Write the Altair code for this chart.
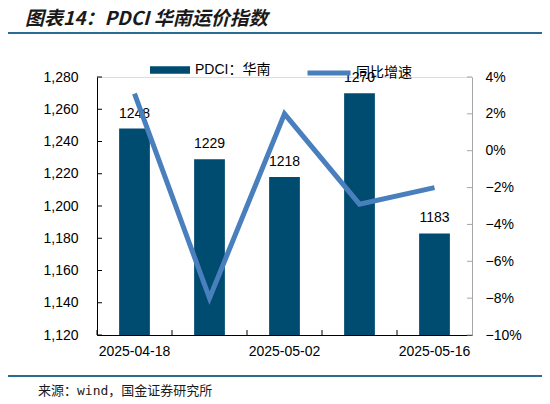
import altair as alt
import pandas as pd

# ---- data ----
dates = ["2025-04-18", "2025-04-25", "2025-05-02", "2025-05-09", "2025-05-16"]
pdci = [1248, 1229, 1218, 1270, 1183]
yoy = [0.031, -0.080, 0.020, -0.029, -0.020]
shown_dates = ["2025-04-18", "2025-05-02", "2025-05-16"]
left_ticks = [1120, 1140, 1160, 1180, 1200, 1220, 1240, 1260, 1280]
right_ticks = [-0.10, -0.08, -0.06, -0.04, -0.02, 0.0, 0.02, 0.04]
bar_name = "PDCI：华南"
line_name = "同比增速"
title_text = "图表14：PDCI 华南运价指数"
source_text = "来源：wind，国金证券研究所"

BAR_C = "#004B70"
LINE_C = "#4A7FBE"
DECO_C = "#2B6B93"
FONT = "Liberation Sans, Arial, Noto Sans CJK SC"
CJK = "Noto Sans CJK SC"
MONO = "DejaVu Sans Mono, Noto Sans CJK SC"

df = pd.DataFrame({"date": dates, "pdci": pdci, "yoy": yoy,
                   "s1": [bar_name] * 5, "s2": [line_name] * 5})
lt = pd.DataFrame({"v": left_ticks})
rt = pd.DataFrame({"v": right_ticks})
one = pd.DataFrame({"t": [title_text], "s": [source_text]})

x_scale = alt.Scale(paddingInner=0, paddingOuter=0)
x_axis = alt.Axis(values=shown_dates, labelAngle=0, ticks=False, title=None,
                  domainColor="#000000", labelFontSize=14, labelFont=FONT,
                  labelColor="#000000", labelPadding=9, grid=False)
yl_scale = alt.Scale(domain=[1120, 1280], nice=False, zero=False)
yl_axis = alt.Axis(values=left_ticks, format=",d", ticks=False, title=None,
                   domainColor="#000000", labelFontSize=14, labelFont=FONT,
                   labelColor="#000000", labelPadding=19, grid=False)
yr_scale = alt.Scale(domain=[-0.10, 0.04], nice=False, zero=False)
yr_axis = alt.Axis(values=right_ticks, format=".0%", ticks=False, title=None,
                   orient="right", domainColor="#A6A6A6", labelFontSize=14,
                   labelFont=FONT, labelColor="#000000", labelPadding=13,
                   grid=False)

X = alt.X("date:N", scale=x_scale, axis=x_axis, sort=dates)

bars = alt.Chart(df).mark_bar(width={"band": 0.41}).encode(
    x=X,
    y=alt.Y("pdci:Q", scale=yl_scale, axis=yl_axis),
    y2=alt.datum(1120),
    color=alt.Color("s1:N", scale=alt.Scale(range=[BAR_C]),
                    legend=alt.Legend(orient="none", legendX=53, legendY=-27,
                                      title=None,
                                      symbolType="M-1,-0.19H1V0.19H-1Z",
                                      symbolSize=1600, symbolStrokeWidth=0,
                                      labelFontSize=14, labelFont=FONT,
                                      labelColor="#000000", labelOffset=5,
                                      padding=0)),
)

labels = alt.Chart(df).mark_text(baseline="alphabetic", dy=-11, fontSize=14,
                                 font=FONT, color="#000000").encode(
    x=X,
    y=alt.Y("pdci:Q", scale=yl_scale, axis=yl_axis),
    text=alt.Text("pdci:Q", format="d"),
)

ltick = alt.Chart(lt).mark_rule(color="#000000", strokeWidth=1).encode(
    y=alt.Y("v:Q", scale=yl_scale, axis=yl_axis),
    x=alt.value(0), x2=alt.value(5),
)

xtick = alt.Chart(df).mark_rule(color="#000000", strokeWidth=1).encode(
    x=alt.X("date:N", scale=x_scale, axis=x_axis, sort=dates, bandPosition=0),
    y=alt.value(258), y2=alt.value(253),
)

title_mark = alt.Chart(one).mark_text(align="left", baseline="top",
                                      fontSize=19, fontWeight="bold",
                                      fontStyle="italic", font=CJK,
                                      color="#1a1a1a").encode(
    text="t:N", x=alt.value(-72), y=alt.value(-67))

title_rule = alt.Chart(one).mark_rule(color=DECO_C, strokeWidth=2).encode(
    x=alt.value(-92), x2=alt.value(448), y=alt.value(-44))

bottom_rule = alt.Chart(one).mark_rule(color=DECO_C, strokeWidth=2).encode(
    x=alt.value(-92), x2=alt.value(448), y=alt.value(299))

source_mark = alt.Chart(one).mark_text(align="left", baseline="middle",
                                       fontSize=13, font=MONO,
                                       color="#1a1a1a").encode(
    text="s:N", x=alt.value(-59), y=alt.value(314))

left = alt.layer(bars, ltick, xtick, title_rule, bottom_rule,
                 title_mark, source_mark, labels)

line = alt.Chart(df).mark_line(strokeWidth=5, strokeCap="butt",
                               strokeJoin="miter").encode(
    x=X,
    y=alt.Y("yoy:Q", scale=yr_scale, axis=yr_axis),
    stroke=alt.Stroke("s2:N", scale=alt.Scale(range=[LINE_C]),
                      legend=alt.Legend(orient="none", legendX=208,
                                        legendY=-28, title=None,
                                        symbolType="stroke", symbolSize=1849,
                                        symbolStrokeWidth=5,
                                        labelFontSize=14, labelFont=FONT,
                                        labelColor="#000000", labelOffset=3,
                                        padding=0)),
)

rtick = alt.Chart(rt).mark_rule(color="#A6A6A6", strokeWidth=1).encode(
    y=alt.Y("v:Q", scale=yr_scale, axis=yr_axis),
    x=alt.value(370), x2=alt.value(375),
)

right = alt.layer(line, rtick)

chart = alt.layer(left, right).resolve_scale(
    y="independent", color="independent", stroke="independent"
).properties(
    width=375, height=258,
    padding={"left": 89, "top": 69, "right": 70, "bottom": 68},
    autosize=alt.AutoSizeParams(type="none"),
).configure_view(stroke=None).configure(background="white")

chart.save("out.html", embed_options={"renderer": "svg", "actions": False})
